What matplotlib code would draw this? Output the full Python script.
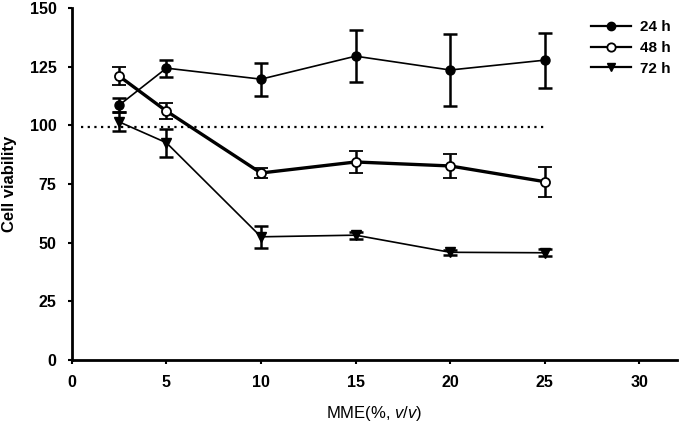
import matplotlib.pyplot as plt
import matplotlib as mpl
from matplotlib.lines import Line2D

mpl.rc('font', family=['Liberation Sans', 'DejaVu Sans'])
mpl.rc('mathtext', fontset='custom', rm='Liberation Sans',
       it='Liberation Sans:italic', bf='Liberation Sans:bold')

conc = [2.5, 5, 10, 15, 20, 25]
v24 = [108.6, 124.4, 119.7, 129.5, 123.6, 127.8]
e24 = [3.0, 3.6, 7.0, 11.0, 15.5, 11.7]
v48 = [121.0, 106.1, 79.7, 84.4, 82.7, 76.0]
e48 = [4.0, 3.3, 2.3, 4.5, 5.0, 6.4]
v72 = [101.5, 92.6, 52.5, 53.2, 45.9, 45.7]
e72 = [4.0, 6.0, 4.7, 1.5, 1.0, 1.5]
labels = ['24 h', '48 h', '72 h']
ref_x = [0.5, 25.1]
ref_y = [99.3, 99.3]

fig = plt.figure(figsize=(6.84, 4.25), dpi=100)
ax = fig.add_axes([0.105, 0.153, 0.885, 0.828])

ax.plot(ref_x, ref_y, color='black', linestyle=(0, (1, 2)), linewidth=1.6)

ax.errorbar(conc, v24, yerr=e24, color='black', marker='o', markersize=6.5,
            linewidth=1.2, elinewidth=1.8, capsize=5, capthick=1.8)
ax.errorbar(conc, v48, yerr=e48, color='black', marker='o', markersize=6.5,
            markerfacecolor='white', markeredgewidth=1.3,
            linewidth=2.4, elinewidth=1.8, capsize=5, capthick=1.8)
ax.errorbar(conc, v72, yerr=e72, color='black', marker='v', markersize=6.5,
            linewidth=1.2, elinewidth=1.8, capsize=5, capthick=1.8)

ax.set_xlim(0, 32)
ax.set_ylim(0, 150)
ax.set_xticks([0, 5, 10, 15, 20, 25, 30])
ax.set_yticks([0, 25, 50, 75, 100, 125, 150])
for s in ['top', 'right']:
    ax.spines[s].set_visible(False)
for s in ['left', 'bottom']:
    ax.spines[s].set_linewidth(2)
ax.tick_params(length=3, width=1.5, labelsize=11.5, pad=8)
for t in ax.get_xticklabels() + ax.get_yticklabels():
    t.set_fontweight('bold')

ax.set_ylabel('Cell viability', fontsize=12, fontweight='bold', labelpad=9)
ax.set_xlabel('MME(%, $\\it{v/v}$)', fontsize=12, labelpad=10)

handles = [
    Line2D([], [], color='black', marker='o', markersize=6, linewidth=1.6),
    Line2D([], [], color='black', marker='o', markersize=6, linewidth=1.6,
           markerfacecolor='white', markeredgewidth=1.3),
    Line2D([], [], color='black', marker='v', markersize=6, linewidth=1.6),
]
ax.legend(handles, labels, loc='upper right', bbox_to_anchor=(1.012, 1.005),
          frameon=False, prop={'weight': 'bold', 'size': 11},
          handlelength=2.6, labelspacing=0.45, handletextpad=0.6)

fig.savefig('out.png', dpi=100)
